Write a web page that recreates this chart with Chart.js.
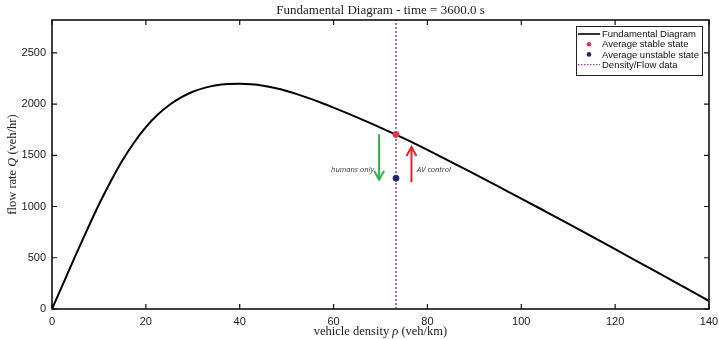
<!DOCTYPE html>
<html><head><meta charset="utf-8">
<script src="https://cdn.jsdelivr.net/npm/chart.js@4/dist/chart.umd.min.js"></script>
<style>html,body{margin:0;padding:0;background:#fff}#wrap{width:719px;height:339px}</style>
</head><body><div id="wrap"><canvas id="c" width="719" height="339"></canvas></div>
<script>
// ---- data ----
const density = [0,2.5,5,7.5,10,12.5,15,17.5,20,22.5,25,27.5,30,32.5,35,37.5,40,42.5,45,47.5,50,52.5,55,57.5,60,65,70,75,80,85,90,95,100,105,110,115,120,125,130,135,140];
const flow    = [0,260,520,775,1020,1245,1450,1625,1775,1895,1990,2065,2120,2158,2183,2195,2198,2192,2178,2156,2127,2092,2053,2010,1965,1870,1770,1664,1552,1436,1318,1198,1078,956,833,709,584,458,332,205,78];
const xTicks = [0,20,40,60,80,100,120,140];
const yTicks = [0,500,1000,1500,2000,2500];
const xRange = [0,140];
const yRange = [0,2820];
const dataDensity = [73.3];
const stableFlow = [1703];
const unstableFlow = [1276];
const humansArrowX = [69.7];
const humansArrowY = [1705,1262];
const avArrowX = [76.6];
const avArrowY = [1237,1580];
const noteText = ['humans only','AV control'];
const noteX = [68.6,77.8];
const noteY = [1357,1357];
const legendLabels = ['Fundamental Diagram','Average stable state','Average unstable state','Density/Flow data'];
const titleText = 'Fundamental Diagram - time = 3600.0 s';

const RED='#e3344f', BLUE='#1b2a6b', PURPLE='#a33bb0', GREEN='#2fb34a', ARROWRED='#e4222c';

const overlay = {
  id:'overlay',
  afterDatasetsDraw(chart){
    const {ctx, chartArea:a, scales:{x,y}} = chart;
    ctx.save();
    function head(px,tipV,dirUp,color){
      const tx=x.getPixelForValue(px), ty=y.getPixelForValue(tipV);
      ctx.strokeStyle=color; ctx.lineWidth=2; ctx.lineCap='butt';
      ctx.beginPath();
      const d = dirUp?1:-1;
      ctx.moveTo(tx-5,ty+d*9); ctx.lineTo(tx,ty); ctx.lineTo(tx+5,ty+d*9);
      ctx.stroke();
    }
    head(humansArrowX[0],humansArrowY[1],false,GREEN);
    head(avArrowX[0],avArrowY[1],true,ARROWRED);
    ctx.fillStyle='#333';
    ctx.font='italic 7.5px "Open Sans"';
    ctx.textBaseline='middle';
    ctx.textAlign='right';
    ctx.fillText(noteText[0], x.getPixelForValue(noteX[0]), y.getPixelForValue(noteY[0]));
    ctx.textAlign='left';
    ctx.fillText(noteText[1], x.getPixelForValue(noteX[1]), y.getPixelForValue(noteY[1]));
    // frame
    ctx.strokeStyle='#111'; ctx.lineWidth=1.6;
    ctx.strokeRect(a.left, a.top, a.right-a.left, a.bottom-a.top);
    ctx.lineWidth=1.2;
    ctx.beginPath();
    xTicks.forEach(v=>{const p=x.getPixelForValue(v);
      ctx.moveTo(p,a.bottom); ctx.lineTo(p,a.bottom-5);
      ctx.moveTo(p,a.top); ctx.lineTo(p,a.top+5);});
    yTicks.forEach(v=>{const p=y.getPixelForValue(v);
      ctx.moveTo(a.left,p); ctx.lineTo(a.left+5,p);
      ctx.moveTo(a.right,p); ctx.lineTo(a.right-5,p);});
    ctx.stroke();
    // title
    ctx.fillStyle='#222';
    ctx.font='13px "Liberation Serif"';
    ctx.textAlign='center'; ctx.textBaseline='middle';
    ctx.fillText(titleText,(a.left+a.right)/2,11);
    function mixed(parts, cx, cy){
      let w=0;
      parts.forEach(p=>{ctx.font=p[1]; w+=ctx.measureText(p[0]).width;});
      let sx=cx-w/2; ctx.textAlign='left';
      parts.forEach(p=>{ctx.font=p[1]; ctx.fillText(p[0],sx,cy); sx+=ctx.measureText(p[0]).width;});
    }
    const rf='12.5px "Liberation Serif"', itf='italic 12.5px "Liberation Serif"';
    mixed([['vehicle density ',rf],['\u03C1',itf],[' (veh/km)',rf]],(a.left+a.right)/2,332);
    ctx.save();
    ctx.translate(13,(a.top+a.bottom)/2);
    ctx.rotate(-Math.PI/2);
    mixed([['flow rate ',rf],['Q',itf],[' (veh/hr)',rf]],0,0);
    ctx.restore();
    // legend
    const bw=126,bh=49;
    const bx=a.right-7-bw, by=a.top+6;
    ctx.fillStyle='#fff'; ctx.fillRect(bx,by,bw,bh);
    ctx.strokeStyle='#222'; ctx.lineWidth=1;
    ctx.strokeRect(bx+0.5,by+0.5,bw,bh);
    ctx.font='9.5px "Liberation Sans"'; ctx.textBaseline='middle'; ctx.textAlign='left';
    legendLabels.forEach((t,i)=>{
      const ry=by+8+i*10.2;
      const sx0=bx+2, sx1=bx+24;
      if(i===0){ctx.strokeStyle='#000';ctx.lineWidth=1.6;ctx.setLineDash([]);ctx.beginPath();ctx.moveTo(sx0,ry);ctx.lineTo(sx1,ry);ctx.stroke();}
      if(i===1||i===2){ctx.fillStyle=i===1?RED:BLUE;ctx.beginPath();ctx.arc((sx0+sx1)/2,ry,2.3,0,Math.PI*2);ctx.fill();}
      if(i===3){ctx.strokeStyle=PURPLE;ctx.lineWidth=1.3;ctx.setLineDash([1.5,1.5]);ctx.beginPath();ctx.moveTo(sx0,ry);ctx.lineTo(sx1,ry);ctx.stroke();ctx.setLineDash([]);}
      ctx.fillStyle='#111'; ctx.fillText(t,bx+26,ry+0.5);
    });
    ctx.restore();
  }
};

new Chart(document.getElementById('c'),{
  type:'scatter',
  data:{datasets:[
    {label:legendLabels[0],data:density.map((d,i)=>({x:d,y:flow[i]})),showLine:true,borderColor:'#000',borderWidth:2,pointRadius:0,cubicInterpolationMode:'monotone',order:2},
    {label:legendLabels[3],data:[{x:dataDensity[0],y:yRange[0]},{x:dataDensity[0],y:yRange[1]}],showLine:true,borderColor:PURPLE,borderWidth:1.5,borderDash:[2,2],pointRadius:0,order:3},
    {label:'humans',data:humansArrowY.map(v=>({x:humansArrowX[0],y:v})),showLine:true,borderColor:GREEN,borderWidth:2,pointRadius:0,order:4},
    {label:'av',data:avArrowY.map(v=>({x:avArrowX[0],y:v})),showLine:true,borderColor:ARROWRED,borderWidth:2,pointRadius:0,order:4},
    {label:legendLabels[1],data:[{x:dataDensity[0],y:stableFlow[0]}],pointRadius:3,pointBackgroundColor:RED,pointBorderColor:RED,order:0},
    {label:legendLabels[2],data:[{x:dataDensity[0],y:unstableFlow[0]}],pointRadius:3,pointBackgroundColor:BLUE,pointBorderColor:BLUE,order:0}
  ]},
  options:{
    responsive:false, animation:false, devicePixelRatio:1,
    layout:{padding:{top:20,right:10,left:0,bottom:0}},
    plugins:{legend:{display:false},tooltip:{enabled:false}},
    scales:{
      x:{type:'linear',min:xRange[0],max:xRange[1],
         afterBuildTicks:s=>{s.ticks=xTicks.map(v=>({value:v}));},
         afterFit:s=>{s.height=30;s.paddingLeft=0;s.paddingRight=0;},
         grid:{display:false,drawTicks:false},border:{display:false},
         ticks:{padding:6,color:'#222',font:{family:'Liberation Sans',size:11},maxRotation:0,callback:v=>String(v)}},
      y:{type:'linear',min:yRange[0],max:yRange[1],
         afterBuildTicks:s=>{s.ticks=yTicks.map(v=>({value:v}));},
         afterFit:s=>{s.width=52;s.paddingTop=0;s.paddingBottom=0;},
         grid:{display:false,drawTicks:false},border:{display:false},
         ticks:{padding:6,color:'#222',font:{family:'Liberation Sans',size:11},callback:v=>String(v)}}
    }
  },
  plugins:[overlay]
});
</script></body></html>
